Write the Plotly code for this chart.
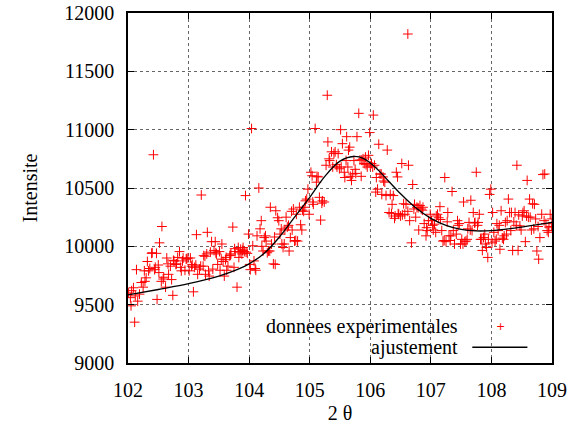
import plotly.graph_objects as go

exp_x = [102.01,102.04,102.05,102.06,102.09,102.11,102.12,102.14,102.16,102.19,102.22,102.25,102.27,102.28,102.30,102.32,102.34,102.36,102.39,102.40,102.42,102.44,102.45,102.47,102.48,102.50,102.51,102.52,102.55,102.56,102.58,102.59,102.62,102.64,102.66,102.67,102.70,102.72,102.74,102.75,102.76,102.79,102.80,102.82,102.85,102.87,102.88,102.90,102.91,102.94,102.96,102.97,102.99,103.01,103.03,103.05,103.06,103.08,103.10,103.12,103.13,103.15,103.18,103.20,103.21,103.24,103.25,103.27,103.28,103.30,103.31,103.33,103.34,103.36,103.38,103.40,103.42,103.44,103.45,103.46,103.48,103.51,103.52,103.54,103.55,103.57,103.59,103.61,103.62,103.63,103.65,103.68,103.69,103.70,103.73,103.75,103.76,103.77,103.80,103.82,103.83,103.85,103.86,103.88,103.89,103.90,103.92,103.94,103.95,103.97,103.99,104.01,104.02,104.04,104.06,104.08,104.10,104.11,104.13,104.16,104.18,104.20,104.21,104.23,104.25,104.27,104.28,104.30,104.32,104.34,104.35,104.37,104.40,104.42,104.43,104.44,104.47,104.49,104.51,104.53,104.54,104.56,104.58,104.59,104.61,104.63,104.65,104.66,104.68,104.70,104.71,104.73,104.75,104.77,104.78,104.80,104.83,104.85,104.87,104.88,104.90,104.92,104.93,104.95,104.97,104.99,105.02,105.04,105.05,105.06,105.09,105.11,105.12,105.14,105.16,105.18,105.20,105.21,105.24,105.27,105.29,105.30,105.32,105.33,105.36,105.38,105.40,105.42,105.44,105.45,105.47,105.49,105.51,105.52,105.54,105.57,105.58,105.60,105.61,105.63,105.64,105.66,105.67,105.69,105.71,105.73,105.75,105.76,105.78,105.81,105.83,105.85,105.86,105.88,105.90,105.92,105.93,105.95,105.97,105.99,106.00,106.02,106.04,106.05,106.07,106.09,106.10,106.12,106.14,106.16,106.18,106.19,106.21,106.22,106.24,106.26,106.28,106.31,106.33,106.35,106.36,106.38,106.40,106.41,106.43,106.45,106.46,106.47,106.50,106.52,106.53,106.55,106.57,106.59,106.62,106.62,106.63,106.65,106.68,106.70,106.72,106.73,106.75,106.77,106.79,106.80,106.82,106.84,106.86,106.87,106.89,106.92,106.93,106.94,106.96,106.99,107.01,107.03,107.04,107.06,107.08,107.09,107.11,107.13,107.15,107.16,107.18,107.20,107.22,107.23,107.25,107.27,107.28,107.30,107.32,107.33,107.35,107.37,107.39,107.42,107.44,107.45,107.47,107.49,107.51,107.53,107.54,107.56,107.58,107.60,107.61,107.63,107.65,107.66,107.68,107.70,107.72,107.73,107.75,107.77,107.78,107.80,107.82,107.84,107.85,107.87,107.89,107.90,107.92,107.94,107.95,107.97,107.99,108.01,108.02,108.04,108.06,108.08,108.09,108.11,108.13,108.14,108.16,108.18,108.20,108.21,108.23,108.25,108.26,108.28,108.30,108.32,108.33,108.35,108.37,108.39,108.41,108.42,108.44,108.45,108.47,108.49,108.51,108.52,108.54,108.56,108.58,108.59,108.61,108.63,108.64,108.66,108.68,108.70,108.71,108.73,108.75,108.77,108.78,108.80,108.83,108.85,108.87,108.88,108.90,108.92,108.94,108.95,108.97,108.99,109.00]
exp_y = [9600,9560,9490,9620,9645,9350,9575,9800,9530,9590,9690,9650,9790,9700,9730,9870,9790,9810,9940,9945,10785,9800,9820,9940,9545,9840,9775,10030,9700,10170,9720,9735,9650,9900,9850,9760,9830,9715,9580,9880,9875,9845,9850,9905,9955,9820,9790,9875,9900,9795,9890,9895,9900,9790,9900,9830,9845,9610,9820,9840,10100,9760,9805,9830,10440,9830,9920,9915,9760,9935,10120,9790,9745,9950,10040,9805,9965,10040,9945,9935,9845,9955,9795,9890,10020,9870,9745,9885,9905,9795,9830,9920,9925,9935,10165,9820,9980,9955,9650,9990,9905,9950,9975,9935,9965,9990,9955,10435,9950,9940,10105,9845,9800,11010,10005,9875,9810,9795,10090,10500,10150,10220,10000,9960,10075,10090,10045,9945,9960,9960,10335,10020,9850,10080,9845,10305,10245,10220,10105,10150,10020,9990,10020,10140,10250,10165,10180,9960,10075,10300,10140,10320,10045,10050,10275,10045,10335,10185,10140,10310,10300,10335,10390,10405,10490,10275,10635,10605,10380,10360,11010,10550,10600,10595,10420,10225,10370,10390,10380,10695,11295,10895,10750,10735,10810,10680,10795,10810,10700,10680,10795,10665,11000,10680,10880,10635,10590,10735,10940,10680,10825,10850,10600,10565,10620,10735,10660,10625,10940,11140,10740,10600,10740,10750,10710,10765,10700,10680,10780,10975,10690,10710,10680,11125,10695,10465,10590,10490,10875,10620,10620,10445,10595,10560,10550,10435,10825,10290,10445,10280,10360,10435,10240,10260,10635,10595,10280,10275,10260,10710,10270,10365,10275,10360,11820,10300,10695,10220,10030,10530,10320,10360,10250,10335,10330,10140,10350,10320,10310,10335,10195,10090,10160,10135,10220,10275,10220,10180,10140,10190,10120,10260,10275,10245,10340,10230,10135,10045,10050,10590,10040,10210,10290,10090,10050,10090,10470,10135,10020,10105,10220,10180,10195,10020,10060,10020,10380,10040,10045,10060,10150,10205,10140,10395,10135,10290,10200,10205,10635,10180,10205,10275,10060,10060,9965,10075,10105,10020,9990,9905,10060,10445,10490,10030,10290,10120,10045,10060,10195,10135,10180,9975,10305,10070,10060,10090,10205,10105,10220,10405,10290,10135,10290,9965,10210,10290,10180,10695,9965,10270,10175,10140,10260,10290,10305,10040,10260,10565,10250,10405,10250,10140,10365,10150,10360,10235,9960,10170,9890,10075,10275,10615,10220,10620,10195,10135,10120,10165,10275,10170,10235]

# fitted curve (ajustement)
fit_x = [102.0,102.5,103.0,103.5,103.8,104.0,104.25,104.5,104.75,105.0,105.25,105.5,105.72,105.9,106.1,106.3,106.5,106.75,107.0,107.25,107.5,107.75,108.0,108.5,109.0]
fit_y = [9583,9630,9680,9745,9800,9850,9940,10080,10250,10420,10600,10730,10770,10750,10670,10560,10450,10330,10240,10180,10145,10132,10135,10165,10205]

x_ticks = [102,103,104,105,106,107,108,109]
y_ticks = [9000,9500,10000,10500,11000,11500,12000]
legend_labels = ["donnees experimentales", "ajustement"]

FONT = "Liberation Serif"

fig = go.Figure()
fig.add_trace(go.Scatter(
    x=exp_x, y=exp_y, mode="markers", name=legend_labels[0],
    marker=dict(symbol="cross-thin", size=7, color="red", line=dict(color="red", width=1)),
    showlegend=False))
fig.add_trace(go.Scatter(
    x=fit_x, y=fit_y, mode="lines", name=legend_labels[1],
    line=dict(color="black", width=1.3, shape="spline", smoothing=1.0),
    showlegend=False))

# opaque key box (hides the grid behind it)
fig.add_shape(type="rect", xref="paper", yref="paper", x0=0.30, x1=1.0, y0=0.0, y1=0.134,
              fillcolor="white", line=dict(width=0), layer="between")
# key entries (text right-aligned, sample to its right, gnuplot style)
fig.add_annotation(xref="paper", yref="paper", x=0.782, y=0.105, xanchor="right", yanchor="middle",
                   text=legend_labels[0], showarrow=False, font=dict(family=FONT, size=20, color="black"))
fig.add_annotation(xref="paper", yref="paper", x=0.782, y=0.045, xanchor="right", yanchor="middle",
                   text=legend_labels[1], showarrow=False, font=dict(family=FONT, size=20, color="black"))
fig.add_annotation(xref="paper", yref="paper", x=0.879, y=0.105, xanchor="center", yanchor="middle",
                   text="+", showarrow=False, font=dict(family="DejaVu Sans", size=11, color="red"))
fig.add_shape(type="line", xref="paper", yref="paper", x0=0.812, x1=0.942, y0=0.045, y1=0.045,
              line=dict(color="black", width=1.3))

axis_common = dict(
    showline=True, linecolor="black", linewidth=1.5, mirror="allticks",
    ticks="inside", ticklen=6, tickcolor="black", tickwidth=1,
    showgrid=True, gridcolor="#666666", gridwidth=1, griddash="dot",
    zeroline=False, automargin=False,
    tickfont=dict(family=FONT, size=20, color="black"),
)

fig.update_xaxes(range=[102, 109], tickvals=x_ticks, ticktext=[str(v) for v in x_ticks],
                 title=dict(text="2 θ", font=dict(family=FONT, size=20, color="black"), standoff=8),
                 ticklabelstandoff=8, **axis_common)
fig.update_yaxes(range=[9000, 12000], tickvals=y_ticks, ticktext=[str(v) for v in y_ticks],
                 title=dict(text="Intensite", font=dict(family=FONT, size=20, color="black"), standoff=21),
                 ticklabelstandoff=8, **axis_common)

fig.update_layout(
    width=567, height=424,
    margin=dict(l=128, r=15, t=13, b=61),
    paper_bgcolor="white", plot_bgcolor="white",
    font=dict(family=FONT, size=20, color="black"),
)

# remove the default 8px page margin so the figure fills the window exactly
fig.write_html("out.html", config={"displayModeBar": False},
               post_script="document.body.style.margin='0';document.body.style.overflow='hidden';")
